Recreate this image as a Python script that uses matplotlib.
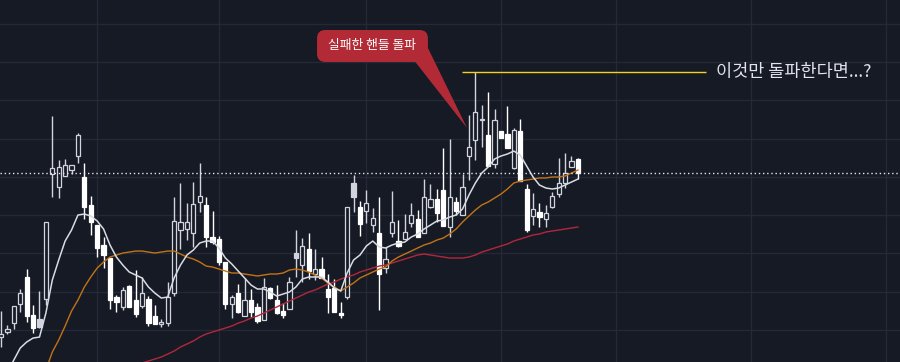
import matplotlib
matplotlib.use("Agg")
import matplotlib.pyplot as plt
import numpy as np
from matplotlib.patches import FancyBboxPatch, Polygon

# ---------------- data ----------------
opens = [3910, 3970, 4090, 4340, 4690, 4200, 4145, 4405, 6040, 5870,
         6015, 6091, 6275, 6000, 5635, 5370, 5110, 4940, 4430, 4300,
         4575, 4392, 4315, 4405, 4183, 4085, 4090, 4485, 5307, 5320,
         5268, 5673, 5634, 5210, 5189, 4889, 4340, 4483, 4183, 4392,
         4301, 4131, 4549, 4392, 4248, 4274, 5006, 4849, 5059, 4732,
         4797, 4536, 4549, 4222, 4431, 5921, 5608, 5555, 5372, 5268,
         4810, 5268, 5163, 5189, 5398, 5451, 5268, 5608, 5712, 5830,
         5346, 5673, 5503, 6274, 6483, 6740, 6549, 6170, 6601, 6562,
         6117, 6601, 5843, 5490, 5542, 5451, 5608, 5777, 5921, 6130,
         6235]
highs = [4250, 4065, 4320, 4540, 4800, 4330, 4510, 5410, 6800, 6220,
         6235, 6160, 6575, 6185, 5750, 5375, 5215, 4945, 4457, 4560,
         4590, 4785, 4695, 4445, 4327, 4145, 4625, 5740, 5920, 5660,
         5935, 6183, 5738, 5555, 5228, 4895, 4457, 4601, 4680, 4536,
         4353, 4680, 4562, 4588, 4353, 4693, 5307, 5202, 5268, 5059,
         4954, 4732, 4666, 4366, 5610, 6026, 5686, 5830, 5594, 5738,
         5085, 5817, 5438, 5516, 5660, 5568, 5973, 5908, 5843, 6379,
         6496, 5738, 6039, 6810, 7372, 6941, 7111, 6888, 6605, 6928,
         6640, 6758, 5908, 5790, 5660, 5634, 5804, 6248, 6313, 6274,
         6248]
lows = [3780, 3950, 4010, 4235, 4100, 3960, 4030, 4330, 5740, 5725,
        6010, 6040, 6185, 5450, 5240, 4955, 4810, 4275, 4235, 4260,
        4295, 4170, 4285, 4050, 4075, 4040, 4050, 4445, 5060, 5175,
        5085, 5542, 5085, 5124, 4849, 4274, 4157, 4222, 4180, 4170,
        4091, 4125, 4410, 4209, 4157, 4270, 4693, 4627, 4666, 4653,
        4675, 4222, 4230, 4157, 4405, 5542, 5228, 5398, 5281, 4261,
        4745, 5215, 5085, 5185, 5346, 5210, 5265, 5594, 5411, 5355,
        5215, 5503, 5500, 5960, 6222, 6392, 6140, 6117, 6505, 6379,
        6105, 5945, 5281, 5372, 5346, 5346, 5600, 5738, 5856, 6125,
        5973]
closes = [3950, 4010, 4310, 4480, 4180, 4030, 4035, 5410, 6115, 6130,
          6155, 6156, 6550, 5610, 5410, 5070, 4980, 4390, 4366, 4525,
          4300, 4210, 4485, 4090, 4078, 4092, 4430, 5425, 5411, 5415,
          5647, 5751, 5215, 5150, 4889, 4340, 4431, 4235, 4392, 4235,
          4118, 4562, 4418, 4222, 4196, 4627, 4941, 5098, 4771, 4797,
          4680, 4431, 4235, 4196, 5608, 5738, 5385, 5660, 5464, 4732,
          4928, 5411, 5098, 5281, 5503, 5215, 5738, 5712, 5529, 5359,
          5738, 5555, 5869, 6392, 6849, 6750, 6143, 6745, 6509, 6385,
          6614, 5947, 5307, 5581, 5477, 5529, 5751, 5921, 6052, 6209,
          6052]

nan = float("nan")
ma_short = [nan, 3451, 3608, 3765, 3843, 3895, 3908, 4222, 4653, 4915,
            5163, 5307, 5503, 5516, 5490, 5425, 5320, 5111, 4954, 4849,
            4758, 4719, 4680, 4562, 4483, 4418, 4431, 4680, 4849, 4980,
            5045, 5137, 5163, 5163, 5072, 4941, 4863, 4771, 4680, 4588,
            4536, 4536, 4497, 4444, 4470, 4497, 4562, 4666, 4693, 4693,
            4693, 4627, 4549, 4510, 4745, 4915, 4980, 5098, 5163, 5085,
            5072, 5111, 5137, 5150, 5215, 5255, 5320, 5372, 5425, 5438,
            5477, 5503, 5581, 5764, 5921, 6052, 6130, 6235, 6274, 6300,
            6339, 6287, 6143, 6000, 5895, 5856, 5843, 5856, 5895, 5934,
            5973]
ma_mid = [nan, nan, nan, nan, nan, nan, nan, 3477, 3712, 3869,
          4052, 4248, 4392, 4562, 4693, 4810, 4889, 4954, 4980, 5006,
          5019, 5032, 5032, 5019, 5006, 5019, 5032, 5032, 4993, 4954,
          4928, 4889, 4836, 4823, 4797, 4771, 4745, 4745, 4732, 4719,
          4706, 4719, 4732, 4732, 4745, 4784, 4797, 4784, 4758, 4719,
          4680, 4614, 4562, 4510, 4562, 4614, 4680, 4719, 4758, 4797,
          4823, 4902, 4954, 4993, 5032, 5072, 5111, 5137, 5176, 5202,
          5255, 5320, 5411, 5490, 5568, 5634, 5673, 5725, 5777, 5843,
          5921, 5947, 5960, 5973, 5987, 5987, 6000, 6000, 6013, 6052,
          6091]
ma_long = [nan] * 22 + [
    3569, 3595, 3621, 3647, 3686, 3725, 3778, 3817,
    3856, 3908, 3948, 3974, 4000, 4026, 4052, 4091, 4118, 4157,
    4183, 4222, 4261, 4301, 4340, 4379, 4418, 4457, 4497, 4523,
    4562, 4601, 4627, 4666, 4693, 4719, 4758, 4784, 4810, 4836,
    4849, 4876, 4902, 4928, 4954, 4980, 4993, 4980, 4967, 4954,
    4941, 4941, 4941, 4954, 4980, 5019, 5045, 5072, 5098, 5124,
    5163, 5189, 5215, 5242, 5255, 5281, 5294, 5307, 5320, 5333,
    5346]

month_tick_idx = [15, 34, 57, 78, 96, 117, 138]
price_grid = [4000, 4500, 5000, 5500, 6000, 6500, 7000, 7500, 8000]

resistance_price = 7372
resistance_span = (71.9, 110.0)
callout_text = "실패한 핸들 돌파"
right_text = "이것만 돌파한다면...?"

# ---------------- style ----------------
BG = "#161a25"
GRID = "#252936"
LIGHT = "#d1d4dc"
WHITE = "#ffffff"
KR = ["Noto Sans CJK KR", "DejaVu Sans"]

o = np.array(opens, float)
h = np.array(highs, float)
l = np.array(lows, float)
c = np.array(closes, float)
x = np.arange(len(c))

fig = plt.figure(figsize=(9, 3.62), dpi=100, facecolor=BG)
ax = fig.add_axes([0, 0, 1, 1], facecolor=BG)
ax.set_xlim(-0.16, 140.25)
ax.set_ylim(3582, 8313)
ax.set_xticks(month_tick_idx)
ax.set_yticks(price_grid)
ax.grid(True, color=GRID, lw=1.0, zorder=0)
ax.tick_params(length=0, labelbottom=False, labelleft=False)
for s in ax.spines.values():
    s.set_visible(False)

prev_c = np.concatenate([[c[0]], c[:-1]])
up = c >= o
face, edge = [], []
for i in range(len(c)):
    if up[i]:
        face.append(BG)
        edge.append(LIGHT)
    elif c[i] >= prev_c[i]:
        face.append(LIGHT)
        edge.append(LIGHT)
    else:
        face.append(WHITE)
        edge.append(WHITE)

ax.vlines(x, l, h, colors=edge, lw=1.0, zorder=3)
body_lo = np.minimum(o, c)
body_h = np.maximum(np.abs(c - o), 14)
ax.bar(x, body_h, bottom=body_lo, width=0.66, color=face, edgecolor=edge,
       linewidth=0.9, zorder=4)

ax.plot(x, ma_long, color="#b3273a", lw=1.0, zorder=5)
ax.plot(x, ma_mid, color="#c27316", lw=1.0, zorder=5)
ax.plot(x, ma_short, color="#d8dbe3", lw=1.1, zorder=6)

# last price dotted line
ax.axhline(c[-1], color="#e6e8ee", lw=1.0, linestyle=(0, (1, 2)), zorder=6)

# resistance line + text
ax.hlines(resistance_price, resistance_span[0], resistance_span[1],
          color="#f2d31b", lw=1.0, zorder=6)
ax.text(111.5, resistance_price, right_text, color="#e0e3eb", fontsize=12.6,
        family=KR, weight="medium", va="center", ha="left", zorder=7)

# callout
RED = "#b22a36"
box_x0, box_x1 = 49.3, 66.6
box_y0, box_y1 = 7503, 7921
aspect = 6.41 * 13.07
box = FancyBboxPatch((box_x0, box_y0), box_x1 - box_x0, box_y1 - box_y0,
                     boxstyle="round,pad=0,rounding_size=1.3",
                     mutation_aspect=aspect, fc=RED, ec="none", zorder=8)
ax.add_patch(box)
tail = Polygon([(64.4, 7529), (66.6, 7686), (72.7, 6640)], closed=True,
               fc=RED, ec="none", zorder=8)
ax.add_patch(tail)
ax.text((box_x0 + box_x1) / 2, 7712, callout_text, color="white", fontsize=9.2,
        family=KR, weight="medium", ha="center", va="center", zorder=9)

fig.savefig("out.png", dpi=100, facecolor=BG)
